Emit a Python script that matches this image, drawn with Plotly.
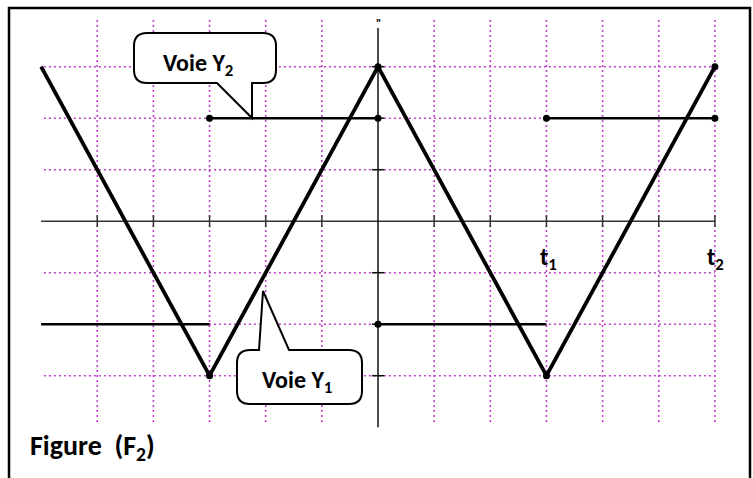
import plotly.graph_objects as go

# --- data (oscilloscope divisions) ---
t_y1 = [-6, -3, 0, 3, 6]
v_y1 = [3, -3, 3, -3, 3]

t_y2 = [-6, -3, None, -3, 0, None, 0, 3, None, 3, 6]
v_y2 = [-2, -2, None, 2, 2, None, -2, -2, None, 2, 2]

dot_t = [-3, 0, 3, -3, 0, 3, 6, 0, 6]
dot_v = [-3, 3, -3, 2, 2, 2, 2, -2, 3]

grid_x = [-5, -4, -3, -2, -1, 1, 2, 3, 4, 5, 6]
grid_y = [-3, -2, -1, 1, 2, 3]
tick_x = [-5, -4, -3, -2, -1, 1, 2, 3, 4, 5, 6]
tick_y = [-3, -2, -1, 1, 2, 3]

W, H = 753, 478
# pixel -> division mapping
X0, SX = 378.0, 56.15
Y0, SY = 221.2, 51.5


def px(x):
    return (x - X0) / SX


def py(y):
    return (Y0 - y) / SY


GRID = '#c040cc'
FONT = 'Carlito, Lato, sans-serif'

fig = go.Figure()

shapes = []
# dotted grid
for gx in grid_x:
    shapes.append(dict(type='line', x0=gx, x1=gx, y0=-3.9, y1=3.93,
                       line=dict(color=GRID, width=1.6, dash='2px,3px'), layer='below'))
for gy in grid_y:
    shapes.append(dict(type='line', x0=-5.95, x1=6, y0=gy, y1=gy,
                       line=dict(color=GRID, width=1.6, dash='2px,3px'), layer='below'))

# axes
shapes.append(dict(type='line', x0=-6, x1=6, y0=0, y1=0,
                   line=dict(color='#333333', width=1.5), layer='below'))
shapes.append(dict(type='line', x0=0, x1=0, y0=-4.0, y1=3.75,
                   line=dict(color='#111111', width=1.5), layer='below'))
for tx in tick_x:
    shapes.append(dict(type='line', x0=tx, x1=tx, y0=-0.115, y1=0.115,
                       line=dict(color='#333333', width=1.5), layer='below'))
for ty in tick_y:
    shapes.append(dict(type='line', x0=-0.11, x1=0.11, y0=ty, y1=ty,
                       line=dict(color='#111111', width=1.5), layer='below'))

# frame
shapes.append(dict(type='rect', xref='paper', yref='paper',
                   x0=9 / W, x1=750 / W, y0=-0.02, y1=1 - 8 / H,
                   line=dict(color='black', width=2.5)))


def callout(pts):
    # pts: list of (cmd, [(x, y), ...]) in pixels
    s = ''
    for cmd, coords in pts:
        s += cmd + ' '.join('%.4f,%.4f' % (px(a), py(b)) for a, b in coords) + ' '
    return s + 'Z'


def box_top_tail(L, R, T, B, r, xa, tip, xb):
    return callout([
        ('M', [(L + r, T)]), ('L', [(xa, T)]), ('L', [tip]), ('L', [(xb, T)]),
        ('L', [(R - r, T)]), ('Q', [(R, T), (R, T + r)]),
        ('L', [(R, B - r)]), ('Q', [(R, B), (R - r, B)]),
        ('L', [(L + r, B)]), ('Q', [(L, B), (L, B - r)]),
        ('L', [(L, T + r)]), ('Q', [(L, T), (L + r, T)]),
    ])


def box_bottom_tail(L, R, T, B, r, xa, tip, xb):
    return callout([
        ('M', [(L + r, T)]), ('L', [(R - r, T)]), ('Q', [(R, T), (R, T + r)]),
        ('L', [(R, B - r)]), ('Q', [(R, B), (R - r, B)]),
        ('L', [(xb, B)]), ('L', [tip]), ('L', [(xa, B)]),
        ('L', [(L + r, B)]), ('Q', [(L, B), (L, B - r)]),
        ('L', [(L, T + r)]), ('Q', [(L, T), (L + r, T)]),
    ])


shapes.append(dict(type='path', path=box_bottom_tail(134, 276, 33, 83, 13, 217, (252, 118), 252),
                   fillcolor='white', line=dict(color='black', width=2)))
shapes.append(dict(type='path', path=box_top_tail(237, 362, 350, 404, 13, 259, (263, 291), 289),
                   fillcolor='white', line=dict(color='black', width=2)))

fig.add_trace(go.Scatter(x=t_y2, y=v_y2, mode='lines',
                         line=dict(color='black', width=2.5), hoverinfo='skip'))
fig.add_trace(go.Scatter(x=t_y1, y=v_y1, mode='lines',
                         line=dict(color='black', width=3.8), hoverinfo='skip'))
fig.add_trace(go.Scatter(x=dot_t, y=dot_v, mode='markers',
                         marker=dict(color='black', size=7, symbol='circle'), hoverinfo='skip'))

annotations = []


def label(text, x, y, size, xanchor='center'):
    annotations.append(dict(text=text, x=px(x), y=py(y), xref='x', yref='y',
                            showarrow=False, xanchor=xanchor, yanchor='middle',
                            font=dict(family=FONT, size=size, color='black', weight='bold')))


label('<b>Voie Y<sub>2</sub></b>', 198, 64, 24)
label('<b>Voie Y<sub>1</sub></b>', 297, 381, 24)
label('<b>t<sub>1</sub></b>', 548, 258, 24)
label('<b>t<sub>2</sub></b>', 715, 258, 24)
label('<b>Figure  (F<sub>2</sub>)</b>', 28, 447, 28, xanchor='left')
label('"', 378, 24, 12)

fig.update_layout(
    width=W, height=H,
    margin=dict(l=0, r=0, t=0, b=0),
    paper_bgcolor='white', plot_bgcolor='white',
    showlegend=False,
    shapes=shapes,
    annotations=annotations,
    xaxis=dict(range=[px(0), px(W)], visible=False, fixedrange=True),
    yaxis=dict(range=[py(H), py(0)], visible=False, fixedrange=True),
)

fig.write_html('out.html', config={'displayModeBar': False},
               post_script="document.body.style.margin='0';")
